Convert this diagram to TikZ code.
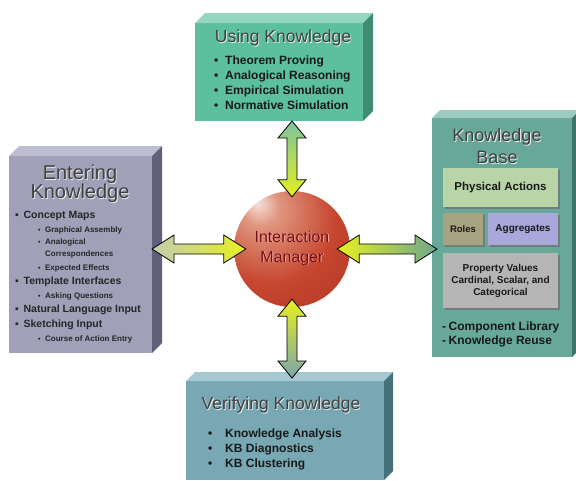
\documentclass[tikz,border=0pt]{standalone}
\usepackage{fontspec}
\setmainfont{Liberation Sans}
\usetikzlibrary{calc,shadows}

\definecolor{usefront}{HTML}{5CBF9E}
\definecolor{usetop}{HTML}{94D6C0}
\definecolor{useside}{HTML}{3E8C72}
\definecolor{entfront}{HTML}{A0A0B9}
\definecolor{enttop}{HTML}{BEBED2}
\definecolor{entside}{HTML}{60607A}
\definecolor{kbfront}{HTML}{68A899}
\definecolor{kbtop}{HTML}{9CCABE}
\definecolor{kbside}{HTML}{3E7468}
\definecolor{verfront}{HTML}{78A8B4}
\definecolor{vertop}{HTML}{A6C8D0}
\definecolor{verside}{HTML}{46707A}
\definecolor{physgreen}{HTML}{B8D5A8}
\definecolor{rolesolive}{HTML}{A5A380}
\definecolor{agglav}{HTML}{A8A8DA}
\definecolor{propgray}{HTML}{B5B5B5}
\definecolor{arryellow}{HTML}{E6F020}
\definecolor{arrusegreen}{HTML}{7CC49C}
\definecolor{arrentgray}{HTML}{C4CCB0}
\definecolor{arrkbgreen}{HTML}{6EA68E}
\definecolor{arrvergray}{HTML}{7CA4AA}
\definecolor{imtext}{HTML}{701010}
\definecolor{imhi}{HTML}{F6E2DC}
\definecolor{imlight}{HTML}{E0967F}
\definecolor{immid}{HTML}{C6462F}
\definecolor{imedge}{HTML}{A42E1C}

\pgfdeclareradialshading{imball}{\pgfpoint{-15bp}{20bp}}{%
  color(0bp)=(imhi); color(8bp)=(imlight); color(28bp)=(immid);
  color(62bp)=(imedge); color(80bp)=(imedge)}

\tikzset{
  slabfront/.style={draw=none, inner sep=0pt, outer sep=0pt},
  titletext/.style={text=black!75, inner sep=0pt, align=center},
  titleshadow/.style={text=white!85!gray, inner sep=0pt, align=center},
  bul/.style={anchor=west, inner sep=0pt, text=black!90,
    font=\fontsize{12}{14}\selectfont\bfseries},
  entbul/.style={anchor=west, inner sep=0pt, text=black!85,
    font=\fontsize{10.5}{12}\selectfont\bfseries},
  entsub/.style={anchor=west, inner sep=0pt, text=black!85,
    font=\fontsize{8}{9}\selectfont\bfseries},
  tile/.style={inner sep=0pt, outer sep=0pt, align=center, text=black!90,
    drop shadow={shadow xshift=1.5pt, shadow yshift=-1.5pt, fill=black!55, opacity=0.8},
    font=\fontsize{10}{12}\selectfont\bfseries},
  fatarrow/.style={draw=black, line width=0.8pt, line join=miter}
}

% top and side faces of a slab
\newcommand{\slab}[4]{%
  \fill[#3] (#1.north west) -- ++(#2,-#2) -- ($(#1.north east)+(#2,-#2)$) -- (#1.north east) -- cycle;
  \fill[#4] (#1.north east) -- ++(#2,-#2) -- ($(#1.south east)+(#2,-#2)$) -- (#1.south east) -- cycle;}

% embossed title
\newcommand{\boxtitle}[5]{%
  \node[titleshadow, font=\fontsize{#3}{#4}\selectfont] (#1-sh) at ($(#2)+(0.8,0.8)$) {#5};
  \node[titletext, font=\fontsize{#3}{#4}\selectfont] (#1) at (#2) {#5};}

% fat double arrows
\newcommand{\vfatarrow}[4]{%
  \shadedraw[fatarrow, top color=#3, bottom color=#4]
    (#1) -- ($(#1)+(14,17)$) -- ($(#1)+(5,17)$) -- ($(#2)+(5,-17)$) -- ($(#2)+(14,-17)$)
    -- (#2) -- ($(#2)+(-14,-17)$) -- ($(#2)+(-5,-17)$) -- ($(#1)+(-5,17)$) -- ($(#1)+(-14,17)$) -- cycle;}
\newcommand{\hfatarrow}[4]{%
  \shadedraw[fatarrow, left color=#3, right color=#4]
    (#1) -- ($(#1)+(22,-14)$) -- ($(#1)+(22,-5)$) -- ($(#2)+(-22,-5)$) -- ($(#2)+(-22,-14)$)
    -- (#2) -- ($(#2)+(-22,14)$) -- ($(#2)+(-22,5)$) -- ($(#1)+(22,5)$) -- ($(#1)+(22,14)$) -- cycle;}

\begin{document}
\begin{tikzpicture}[x=1pt,y=-1pt]

        \useasboundingbox (0,0) rectangle (576,480);
        \fill[white] (0,0) rectangle (576,480);

        % slabs
        \node [slabfront, fill=usefront, minimum width=168pt, minimum height=98pt] (use) at (279,72) {};
        \slab{use}{10}{usetop}{useside}
        \node [slabfront, fill=entfront, minimum width=143pt, minimum height=197pt] (enter) at (80.5,254.5) {};
        \slab{enter}{10}{enttop}{entside}
        \node [slabfront, fill=kbfront, minimum width=140pt, minimum height=239pt] (kb) at (502,237.5) {};
        \slab{kb}{8}{kbtop}{kbside}
        \node [slabfront, fill=verfront, minimum width=198pt, minimum height=99pt] (ver) at (285,430.5) {};
        \slab{ver}{9}{vertop}{verside}

        % Using Knowledge
        \boxtitle{usetitle}{283,38}{17.5}{19}{Using Knowledge}
        \node [bul] (use-1) at (214,61) {\textbullet\hspace{6.8pt}Theorem Proving};
        \node [bul] (use-2) at (214,76) {\textbullet\hspace{6.8pt}Analogical Reasoning};
        \node [bul] (use-3) at (214,91) {\textbullet\hspace{6.8pt}Empirical Simulation};
        \node [bul] (use-4) at (214,105) {\textbullet\hspace{6.8pt}Normative Simulation};

        % Entering Knowledge
        \boxtitle{enttitle}{80,184}{20}{19}{Entering\\Knowledge}
        \node [entbul] (ent-1) at (15,216) {▪\hspace{4.7pt}Concept Maps};
        \node [entsub] (ent-2) at (38,230) {{\fontsize{7}{7}\selectfont\textbullet}\hspace{4.5pt}Graphical Assembly};
        \node [entsub] (ent-3) at (38,242) {{\fontsize{7}{7}\selectfont\textbullet}\hspace{4.5pt}Analogical};
        \node [entsub] (ent-4) at (45,254) {Correspondences};
        \node [entsub] (ent-5) at (38,268) {{\fontsize{7}{7}\selectfont\textbullet}\hspace{4.5pt}Expected Effects};
        \node [entbul] (ent-6) at (15,282) {▪\hspace{4.7pt}Template Interfaces};
        \node [entsub] (ent-7) at (38,296) {{\fontsize{7}{7}\selectfont\textbullet}\hspace{4.5pt}Asking Questions};
        \node [entbul] (ent-8) at (15,310) {▪\hspace{4.7pt}Natural Language Input};
        \node [entbul] (ent-9) at (15,325) {▪\hspace{4.7pt}Sketching Input};
        \node [entsub] (ent-10) at (38,339) {{\fontsize{7}{7}\selectfont\textbullet}\hspace{4.5pt}Course of Action Entry};

        % Knowledge Base
        \boxtitle{kbtitle}{497,146}{18}{22}{Knowledge\\Base}
        \node [tile, fill=physgreen, minimum width=115pt, minimum height=39pt,
               font=\fontsize{11.5}{13}\selectfont\bfseries] (phys) at (500.5,187.5) {Physical Actions};
        \node [tile, fill=rolesolive, minimum width=40pt, minimum height=32pt,
               font=\fontsize{9.5}{11}\selectfont\bfseries] (roles) at (463,229) {Roles};
        \node [tile, fill=agglav, minimum width=70pt, minimum height=32pt] (aggr) at (523,229) {Aggregates};
        \node [tile, fill=propgray, minimum width=115pt, minimum height=55pt] (prop) at (500.5,280.5)
              {Property Values\\Cardinal, Scalar, and\\Categorical};
        \node [bul] (kb-1) at (442,327) {-\hspace{2.5pt}Component Library};
        \node [bul] (kb-2) at (442,341) {-\hspace{2.5pt}Knowledge Reuse};

        % Verifying Knowledge
        \boxtitle{vertitle}{281,405}{17.5}{19}{Verifying Knowledge}
        \node [bul] (ver-1) at (208,434) {\textbullet\hspace{12.8pt}Knowledge Analysis};
        \node [bul] (ver-2) at (208,449) {\textbullet\hspace{12.8pt}KB Diagnostics};
        \node [bul] (ver-3) at (208,464) {\textbullet\hspace{12.8pt}KB Clustering};

        % interaction manager
        \node [circle, minimum size=116pt, inner sep=0pt, shade, shading=imball] (im) at (292,249) {};

        \coordinate (usefoot) at (im.north |- use.south);
        \coordinate (imtop) at ($(im.north)+(0,6)$);
        \coordinate (entfoot) at (enter.east |- im.west);
        \coordinate (imleft) at ($(im.west)+(12,0)$);
        \coordinate (imright) at ($(im.east)+(-13,0)$);
        \coordinate (kbfoot) at ($(kb.west |- im.east)+(5,0)$);
        \coordinate (imbottom) at ($(im.south)+(0,-8)$);
        \coordinate (verfoot) at ($(im.south |- ver.north)+(0,-3)$);

        \vfatarrow{usefoot}{imtop}{arrusegreen}{arryellow}
        \hfatarrow{entfoot}{imleft}{arrentgray}{arryellow}
        \hfatarrow{imright}{kbfoot}{arryellow}{arrkbgreen}
        \vfatarrow{imbottom}{verfoot}{arryellow}{arrvergray}

        \node [text=white!70!red, align=center, font=\fontsize{16}{20}\selectfont] (imlabel-sh) at (292.8,248.8) {Interaction\\Manager};
        \node [text=imtext, align=center, font=\fontsize{16}{20}\selectfont] (imlabel) at (292,248) {Interaction\\Manager};

    \end{tikzpicture}
\end{document}
